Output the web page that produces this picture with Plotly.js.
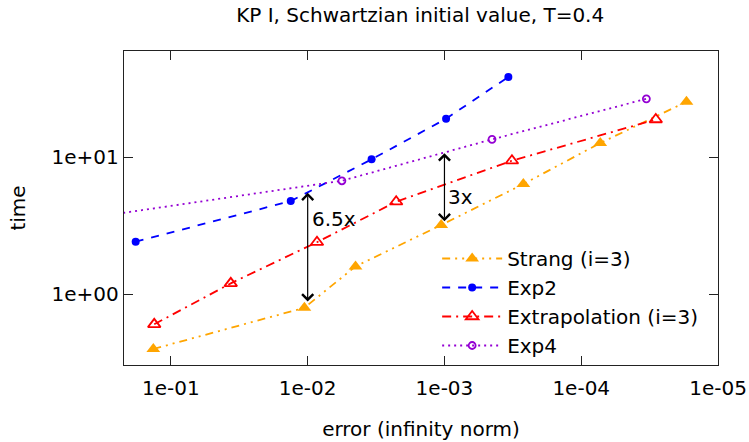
<!DOCTYPE html>
<html>
<head>
<meta charset="utf-8">
<script src="https://cdn.plot.ly/plotly-3.0.1.min.js"></script>
<style>html,body{margin:0;padding:0;background:#fff;}#chart{width:749px;height:442px;}</style>
</head>
<body>
<div id="chart"></div>
<script>
// ---- data ----
const strangErr  = [0.1345, 0.01057, 0.00447, 0.001056, 2.65e-4, 7.26e-5, 1.70e-5];
const strangTime = [0.397, 0.794, 1.59, 3.19, 6.35, 12.65, 25.3];

const exp2Err  = [0.181, 0.0133, 0.00341, 9.73e-4, 3.41e-4];
const exp2Time = [2.41, 4.77, 9.62, 19.05, 38.4];

const extrapErr  = [0.1324, 0.0365, 0.00855, 0.002254, 3.21e-4, 2.85e-5];
const extrapTime = [0.601, 1.197, 2.39, 4.72, 9.40, 18.8];

const exp4Err  = [1.0, 0.00562, 4.49e-4, 3.34e-5];
const exp4Time = [3.14, 6.71, 13.46, 26.6];

const xTickVals = [1e-1, 1e-2, 1e-3, 1e-4, 1e-5];
const xTickText = ['1e-01', '1e-02', '1e-03', '1e-04', '1e-05'];
const yTickVals = [1, 10];
const yTickText = ['1e+00', '1e+01'];

// speed-up arrows: error position, time low, time high, label, label time
const arrowErr   = [1e-2, 1e-3];
const arrowLow   = [0.86, 3.31];
const arrowHigh  = [5.49, 10.64];
const arrowLabel = ['6.5x', '3x'];
const arrowLabelTime = [3.52, 5.13];

const FONT = 'DejaVu Sans, sans-serif';

const traces = [
  {x: strangErr, y: strangTime, name: 'Strang (i=3)', mode: 'lines+markers',
   line: {color: '#FFA500', width: 1.8, dash: '8px,5px,2px,5px,2px,5px'},
   marker: {symbol: 'triangle-up', size: 12, color: '#FFA500'}},
  {x: exp2Err, y: exp2Time, name: 'Exp2', mode: 'lines+markers',
   line: {color: '#0000FF', width: 1.8, dash: '8px,8px'},
   marker: {symbol: 'circle', size: 8, color: '#0000FF'}},
  {x: extrapErr, y: extrapTime, name: 'Extrapolation (i=3)', mode: 'lines+markers',
   line: {color: '#FF0000', width: 1.8, dash: '9px,5px,2px,5px'},
   marker: {symbol: 'triangle-up-open', size: 11, color: '#FF0000', line: {width: 1.8, color: '#FF0000'}}},
  {x: exp4Err, y: exp4Time, name: 'Exp4', mode: 'lines+markers',
   line: {color: '#9400D3', width: 1.8, dash: '2px,4px'},
   marker: {symbol: 'circle-open', size: 7, color: '#9400D3', line: {width: 1.8, color: '#9400D3'}}}
];

const annotations = [];
for (let i = 0; i < arrowErr.length; i++) {
  annotations.push({
    x: Math.log10(arrowErr[i]), y: Math.log10(arrowHigh[i]),
    ax: Math.log10(arrowErr[i]), ay: Math.log10(arrowLow[i]),
    xref: 'x', yref: 'y', axref: 'x', ayref: 'y',
    text: '', showarrow: true, arrowside: 'end+start',
    arrowhead: 4, startarrowhead: 4, arrowsize: 1.8, startarrowsize: 1.8,
    arrowwidth: 1.2, arrowcolor: '#000', standoff: 0, startstandoff: 0
  });
  annotations.push({
    x: Math.log10(arrowErr[i]), y: Math.log10(arrowLabelTime[i]),
    xref: 'x', yref: 'y', text: arrowLabel[i], showarrow: false,
    xanchor: 'left', yanchor: 'middle', xshift: 2,
    font: {family: FONT, size: 20, color: '#000'}
  });
}

const layout = {
  width: 749, height: 442,
  margin: {l: 124, r: 31, t: 51, b: 77},
  paper_bgcolor: '#fff', plot_bgcolor: '#fff',
  font: {family: FONT, size: 20, color: '#000'},
  title: {text: 'KP I, Schwartzian initial value, T=0.4', x: 0.561, xanchor: 'center', y: 0.965, yanchor: 'middle',
          font: {family: FONT, size: 20, color: '#000'}},
  xaxis: {type: 'log', range: [-0.657, -5.0], tickvals: xTickVals, ticktext: xTickText,
          ticks: 'inside', ticklen: 9, tickwidth: 1, tickcolor: '#222',
          showline: true, linecolor: '#222', linewidth: 1.2, mirror: 'ticks',
          showgrid: false, zeroline: false, ticklabelstandoff: 5,
          tickfont: {family: FONT, size: 20, color: '#000'},
          title: {text: 'error (infinity norm)', standoff: 22, font: {family: FONT, size: 20, color: '#000'}}},
  yaxis: {type: 'log', range: [-0.518, 1.774], tickvals: yTickVals, ticktext: yTickText,
          ticks: 'inside', ticklen: 9, tickwidth: 1, tickcolor: '#222',
          showline: true, linecolor: '#222', linewidth: 1.2, mirror: 'ticks',
          showgrid: false, zeroline: false,
          tickfont: {family: FONT, size: 20, color: '#000'},
          title: {text: 'time', standoff: 20, font: {family: FONT, size: 20, color: '#000'}}},
  legend: {x: 0.975, xanchor: 'right', y: 0.0, yanchor: 'bottom',
           bgcolor: 'rgba(0,0,0,0)', borderwidth: 0,
           font: {family: FONT, size: 20, color: '#000'}, tracegroupgap: 0, itemwidth: 60},
  showlegend: true,
  annotations: annotations
};

Plotly.newPlot('chart', traces, layout, {displayModeBar: false, staticPlot: true});
</script>
</body>
</html>
